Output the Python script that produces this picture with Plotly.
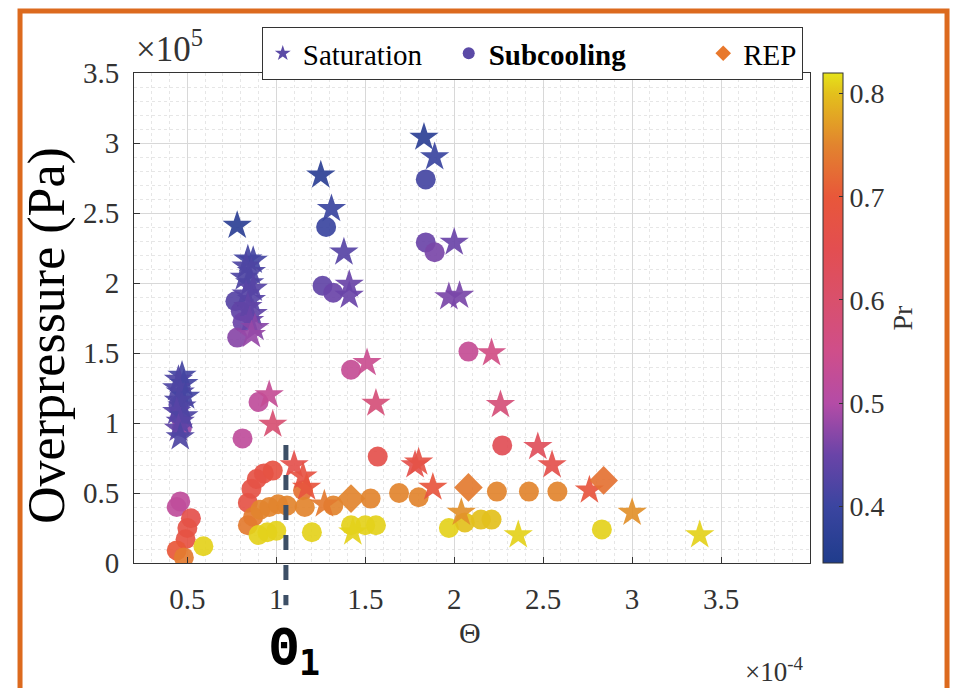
import plotly.graph_objects as go

# Theta (x1e-4), overpressure (x1e5 Pa), reduced pressure Pr
sat_theta = [0.47, 0.45, 0.48, 0.44, 0.46, 0.49, 0.45, 0.47, 0.44, 0.48, 0.46, 0.45, 0.46,
             0.78,
             0.84, 0.87, 0.83, 0.86, 0.82, 0.85, 0.87, 0.83, 0.86, 0.84, 0.87, 0.85, 0.88, 0.86,
             0.96, 0.98, 1.10, 1.15, 1.17, 1.27, 1.43,
             1.25, 1.31, 1.38, 1.41, 1.41, 1.51, 1.56,
             1.83, 1.89, 2.00, 1.97, 2.03, 2.21, 2.26,
             1.78, 1.80, 1.88, 2.47, 2.55, 2.76,
             2.04, 3.00, 2.36, 3.38]
sat_p = [1.34, 1.31, 1.28, 1.25, 1.22, 1.19, 1.16, 1.12, 1.08, 1.05, 1.01, 0.96, 0.90,
         2.41,
         2.17, 2.16, 2.12, 2.08, 2.04, 2.00, 1.96, 1.92, 1.88, 1.83, 1.78, 1.73, 1.68, 1.63,
         1.20, 0.99, 0.70, 0.62, 0.54, 0.42, 0.22,
         2.77, 2.53, 2.22, 1.99, 1.91, 1.43, 1.14,
         3.04, 2.90, 2.29, 1.90, 1.91, 1.50, 1.13,
         0.70, 0.72, 0.54, 0.83, 0.70, 0.52,
         0.36, 0.36, 0.20, 0.20]
sat_pr = [0.41, 0.42, 0.41, 0.42, 0.42, 0.41, 0.42, 0.42, 0.43, 0.42, 0.43, 0.44, 0.42,
          0.37,
          0.41, 0.41, 0.42, 0.42, 0.42, 0.42, 0.43, 0.43, 0.43, 0.44, 0.44, 0.45, 0.47, 0.48,
          0.53, 0.59, 0.66, 0.68, 0.69, 0.74, 0.81,
          0.37, 0.40, 0.43, 0.45, 0.45, 0.54, 0.58,
          0.37, 0.40, 0.45, 0.46, 0.46, 0.56, 0.58,
          0.66, 0.67, 0.69, 0.63, 0.66, 0.69,
          0.76, 0.76, 0.81, 0.81]

sub_theta = [0.45, 0.46, 0.47,
             0.44, 0.46, 0.52, 0.50, 0.49, 0.44, 0.48, 0.59,
             0.77, 0.80, 0.81, 0.78, 0.90, 0.81,
             0.84, 0.86, 0.89, 0.93, 0.98,
             0.84, 0.87, 0.91, 0.96, 1.01, 1.06,
             0.90, 0.95, 1.00, 1.20,
             1.15, 1.16, 1.32, 1.53, 1.69, 1.80, 2.24, 2.42, 2.58,
             1.42, 1.50, 1.56, 1.97, 2.06, 2.15, 2.21, 2.83,
             1.57, 2.27, 1.42, 2.08,
             1.28, 1.26, 1.32, 1.84, 1.84, 1.89]
sub_p = [1.13, 1.04, 0.97,
         0.40, 0.44, 0.32, 0.25, 0.17, 0.09, 0.04, 0.12,
         1.87, 1.80, 1.72, 1.61, 1.15, 0.89,
         0.43, 0.53, 0.60, 0.64, 0.66,
         0.27, 0.33, 0.38, 0.40, 0.42, 0.41,
         0.20, 0.22, 0.23, 0.22,
         0.52, 0.40, 0.41, 0.46, 0.50, 0.47, 0.51, 0.51, 0.51,
         0.27, 0.27, 0.27, 0.25, 0.29, 0.31, 0.31, 0.24,
         0.76, 0.84, 1.38, 1.51,
         2.40, 1.98, 1.93, 2.74, 2.29, 2.22]
sub_pr = [0.43, 0.46, 0.48,
          0.52, 0.52, 0.66, 0.67, 0.68, 0.70, 0.74, 0.81,
          0.43, 0.44, 0.45, 0.47, 0.52, 0.52,
          0.67, 0.67, 0.67, 0.67, 0.68,
          0.74, 0.74, 0.75, 0.75, 0.75, 0.75,
          0.81, 0.81, 0.81, 0.81,
          0.73, 0.75, 0.75, 0.75, 0.75, 0.75, 0.75, 0.75, 0.75,
          0.81, 0.81, 0.81, 0.81, 0.80, 0.80, 0.80, 0.81,
          0.66, 0.64, 0.53, 0.53,
          0.40, 0.44, 0.45, 0.41, 0.45, 0.46]

rep_theta = [1.42, 2.08, 2.84]
rep_p = [0.46, 0.54, 0.59]
rep_pr = [0.75, 0.74, 0.73]

theta_1 = 1.054
pr_min, pr_max = 0.345, 0.82

x_ticks = [0.5, 1, 1.5, 2, 2.5, 3, 3.5]
y_ticks = [0, 0.5, 1, 1.5, 2, 2.5, 3, 3.5]
cb_ticks = [0.4, 0.5, 0.6, 0.7, 0.8]

serif = "Liberation Serif"
nb = "\u00a0"

scale = [
    [0.0, "#1f3c8c"], [0.116, "#3b45a0"], [0.221, "#6a44a8"], [0.326, "#b44ca6"],
    [0.432, "#cf4e8a"], [0.537, "#d9506c"], [0.642, "#e34e50"], [0.747, "#e8573a"],
    [0.853, "#e2842e"], [0.958, "#e3c01c"], [1.0, "#e6e31a"],
]


def add_group(fig, x, y, c, symbol, size, bar=False):
    marker = dict(symbol=symbol, size=size, color=c, colorscale=scale,
                  cmin=pr_min, cmax=pr_max, opacity=0.92, line=dict(width=0))
    if bar:
        marker['showscale'] = True
        marker['colorbar'] = dict(
            x=1.019, xanchor='left', xpad=0, y=0.5, yanchor='middle', len=1.0, ypad=0,
            thickness=20, outlinewidth=1, outlinecolor='#333',
            tickvals=cb_ticks, ticks='inside', ticklen=4, tickcolor='#333',
            tickfont=dict(family=serif, size=28, color='#333'),
            title=dict(text='Pr', side='right', font=dict(family=serif, size=28, color='#333')),
        )
    fig.add_trace(go.Scatter(x=x, y=y, mode='markers', marker=marker,
                             showlegend=False, hoverinfo='skip'))


fig = go.Figure()
add_group(fig, sub_theta, sub_p, sub_pr, 'circle', 20, bar=True)
add_group(fig, sat_theta, sat_p, sat_pr, 'star', 22)
add_group(fig, rep_theta, rep_p, rep_pr, 'diamond', 22)

# legend entries
legend_items = [("Saturation" + nb * 3, 'star', '#5b4aa6'),
                ("<b>Subcooling</b>" + nb * 10, 'circle', '#5b4aa6'),
                ("REP", 'diamond', '#e8782c')]
for name, sym, col in legend_items:
    fig.add_trace(go.Scatter(x=[None], y=[None], mode='markers', name=name,
                             marker=dict(symbol=sym, size=16, color=col)))

fig.add_shape(type='line', xref='x', yref='paper', x0=theta_1, x1=theta_1, y0=0.241, y1=-0.086,
              line=dict(color='#3d4f66', width=5, dash='dash'))

# outer orange frame
fig.add_shape(type='rect', xref='paper', yref='paper', x0=-0.1686, x1=1.2027, y0=1.1265, y1=-0.3,
              line=dict(color='#dc6a1e', width=5))

annos = [
    dict(text='Overpressure (Pa)', x=-0.129, y=0.465, textangle=-90, font=dict(family=serif, size=52, color='black')),
    dict(text='\u0398', x=0.497, y=-0.141, font=dict(family=serif, size=30, color='#333')),
    dict(text='\u00d710<sup>-4</sup>', x=0.948, y=-0.218, font=dict(family=serif, size=27, color='#333')),
    dict(text='\u00d710<sup>5</sup>', x=0.0, y=1.005, xanchor='left', yanchor='bottom', font=dict(family=serif, size=35, color='#333')),
    dict(text='<b>\u0398<sub>1</sub></b>', x=0.238, y=-0.178, font=dict(family='DejaVu Sans Mono', size=50, color='black')),
]
for a in annos:
    a.setdefault('xanchor', 'center')
    a.setdefault('yanchor', 'middle')
    fig.add_annotation(xref='paper', yref='paper', showarrow=False, **a)

axis_common = dict(
    showline=True, linecolor='#333', linewidth=1, mirror=True,
    ticks='inside', ticklen=6, tickcolor='#333',
    showgrid=True, gridcolor='#d8d8d8', gridwidth=1, zeroline=False,
    tickfont=dict(family=serif, size=29, color='#333'),
    minor=dict(dtick=0.1, showgrid=True, gridcolor='#e6e6e6', griddash='dot', ticks=''),
)

fig.update_xaxes(range=[0.2, 4.0], tickvals=x_ticks, ticklabelstandoff=10, **axis_common)
fig.update_yaxes(range=[0, 3.5], tickvals=y_ticks, ticklabelstandoff=8, **axis_common)

# page body has an 8px margin, so the figure is sized to fit inside the window
fig.update_layout(
    width=942, height=680,
    margin=dict(l=126, r=140, t=65, b=125),
    paper_bgcolor='white', plot_bgcolor='white',
    legend=dict(orientation='h', x=0.189, y=1.094, xanchor='left', yanchor='top',
                bordercolor='#333', borderwidth=1, bgcolor='white',
                font=dict(family=serif, size=29, color='black'),
                itemsizing='constant'),
)

fig.write_html("out.html")
